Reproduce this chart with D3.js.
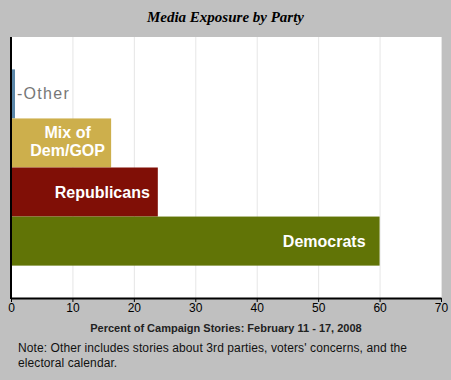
<!DOCTYPE html>
<html><head><meta charset="utf-8">
<script src="https://cdn.jsdelivr.net/npm/d3@7"></script>
<style>body{margin:0;background:#c0c0c0}svg{display:block}</style>
</head><body>
<script>
const categories = ["Other", "Mix of Dem/GOP", "Republicans", "Democrats"];
const values = [0.65, 16.3, 23.9, 60];
const barLabels = [["-Other"], ["Mix of", "Dem/GOP"], ["Republicans"], ["Democrats"]];
const colors = ["#5b87a8", "#cdaf4c", "#800f06", "#617406"];
const tickValues = [0, 10, 20, 30, 40, 50, 60, 70];
const title = "Media Exposure by Party";
const axisTitle = "Percent of Campaign Stories: February 11 - 17, 2008";
const noteLines = ["Note: Other includes stories about 3rd parties, voters' concerns, and the", "electoral calendar."];

const W = 451, H = 380;
const m = {left: 11, right: 10, top: 37, bottom: 82};
const svg = d3.select("body").append("svg").attr("width", W).attr("height", H);
svg.append("rect").attr("width", W).attr("height", H).attr("fill", "#c0c0c0");

const x = d3.scaleLinear().domain([0, 70]).range([m.left, W - m.right]);
const y = d3.scaleBand().domain(categories).range([m.top, H - m.bottom]).paddingInner(0).paddingOuter(0.66);

svg.append("rect").attr("x", m.left).attr("y", m.top).attr("width", x(70) - m.left).attr("height", H - m.bottom - m.top).attr("fill", "#fff");

svg.append("g").selectAll("line").data(tickValues.slice(1)).join("line")
  .attr("x1", d => x(d) + 0.5).attr("x2", d => x(d) + 0.5)
  .attr("y1", m.top).attr("y2", H - m.bottom)
  .attr("stroke", "#e6e6e6").attr("stroke-width", 1);

svg.append("g").selectAll("rect").data(categories).join("rect")
  .attr("x", x(0)).attr("y", d => y(d))
  .attr("width", (d, i) => x(values[i]) - x(0)).attr("height", y.bandwidth())
  .attr("fill", (d, i) => colors[i]);

const font = "'Liberation Sans', Arial, sans-serif";
const lab = svg.append("g").attr("font-family", font).attr("font-size", 16);
const mid = c => y(c) + y.bandwidth() / 2;
// Other (outside the bar)
lab.append("text").attr("x", x(values[0]) + 2).attr("y", mid(categories[0]) + 5)
  .attr("fill", "#777").attr("letter-spacing", 1.3).text(barLabels[0][0]);
// Mix (two lines)
const mt = lab.append("text").attr("text-anchor", "middle").attr("fill", "#fff").attr("font-weight", "bold");
barLabels[1].forEach((t, j) => mt.append("tspan").attr("x", x(values[1]) - 43.5)
  .attr("y", mid(categories[1]) - 4.5 + j * 17.7).text(t));
// Republicans, Democrats
const insetEnd = [0, 0, 8, 14];
[2, 3].forEach(i => lab.append("text").attr("text-anchor", "end").attr("fill", "#fff").attr("font-weight", "bold")
  .attr("x", x(values[i]) - insetEnd[i]).attr("y", mid(categories[i]) + 5.5).text(barLabels[i][0]));

// axes
const xAxis = svg.append("g").attr("transform", `translate(0,${H - m.bottom})`)
  .call(d3.axisBottom(x).tickValues(tickValues).tickSize(4).tickSizeOuter(0).tickFormat(d3.format("d")));
xAxis.select(".domain").attr("stroke", "#000").attr("stroke-width", 2);
xAxis.selectAll(".tick line").attr("stroke", "#000");
xAxis.selectAll(".tick text").attr("font-family", font).attr("font-size", 12).attr("fill", "#000").attr("dy", "0.6em");
svg.append("line").attr("x1", m.left).attr("x2", m.left).attr("y1", m.top).attr("y2", H - m.bottom + 1)
  .attr("stroke", "#000").attr("stroke-width", 2);

svg.append("text").attr("x", W / 2).attr("y", 22).attr("text-anchor", "middle")
  .attr("font-family", "'Liberation Serif', 'Times New Roman', serif").attr("font-weight", "bold").attr("font-style", "italic")
  .attr("font-size", 15).text(title);
svg.append("text").attr("x", 226).attr("y", 332).attr("text-anchor", "middle")
  .attr("font-family", font).attr("font-weight", "bold").attr("font-size", 11).attr("fill", "#222").text(axisTitle);
noteLines.forEach((t, j) => svg.append("text").attr("x", 18).attr("y", 352 + j * 15)
  .attr("font-family", font).attr("font-size", 12).attr("letter-spacing", 0.1).attr("fill", "#111").text(t));
</script>
</body></html>
